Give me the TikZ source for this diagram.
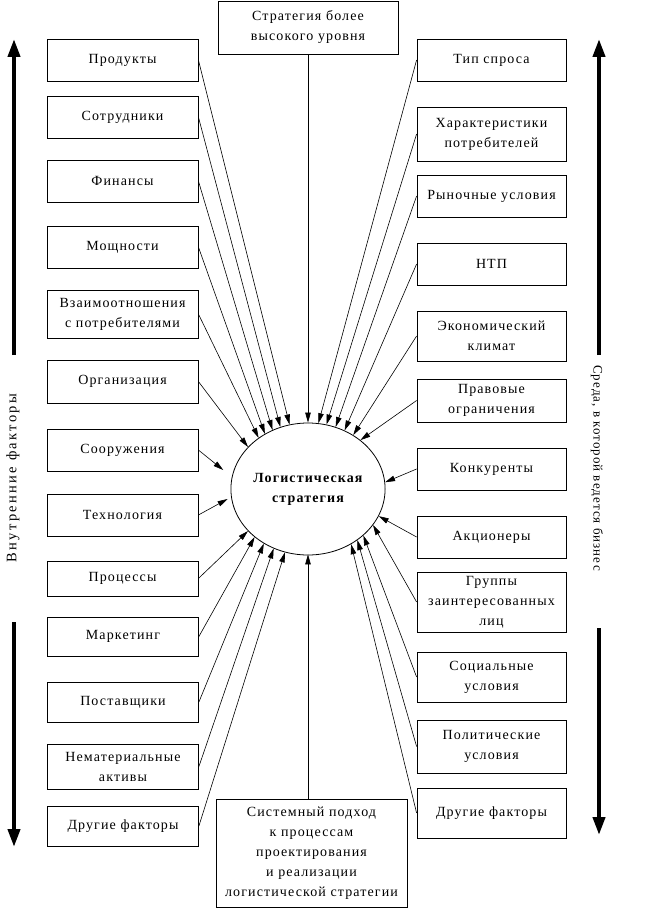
\documentclass[tikz,border=0pt]{standalone}
\usepackage{fontspec}
\setmainfont{Liberation Serif}[LetterSpace=8]
\usetikzlibrary{arrows.meta,shapes.geometric}
\begin{document}
\begin{tikzpicture}[x=1pt,y=-1pt,
  box/.style={draw, line width=0.8pt, align=center, inner sep=0pt, font=\fontsize{14}{20}\selectfont},
  lbox/.style={box, minimum width=151pt},
  rbox/.style={box, minimum width=149pt},
  arr/.style={-{Triangle[length=10pt,width=5.5pt]}, line width=0.6pt},
  big/.style={-{Triangle[length=18pt,width=12pt]}, line width=4pt},
  side/.style={font=\fontsize{14}{16}\selectfont, inner sep=0pt}
]
\useasboundingbox (0,0) rectangle (651,909);

% centre
\node[draw, ellipse, line width=0.8pt, minimum width=142pt, minimum height=132pt, inner sep=0pt,
      align=center, font=\bfseries\fontsize{14}{20}\selectfont] (C) at (308,489) {Логистическая\\стратегия};

% top and bottom boxes
\node[box, minimum width=180pt, minimum height=53pt] (T) at (308,27.5) {Стратегия более\\высокого уровня};
\node[box, minimum width=191pt, minimum height=108pt] (B) at (311.5,853) {Системный подход\\к процессам\\проектирования\\и реализации\\логистической стратегии};

% left boxes
\node[lbox, minimum height=42pt] (L1) at (122.5,60) {Продукты};
\node[lbox, minimum height=42pt] (L2) at (122.5,117) {Сотрудники};
\node[lbox, minimum height=42pt] (L3) at (122.5,181) {Финансы};
\node[lbox, minimum height=42pt] (L4) at (122.5,247) {Мощности};
\node[lbox, minimum height=48pt] (L5) at (122.5,314) {Взаимоотношения\\с потребителями};
\node[lbox, minimum height=43pt] (L6) at (122.5,381.5) {Организация};
\node[lbox, minimum height=42pt] (L7) at (122.5,450) {Сооружения};
\node[lbox, minimum height=42pt] (L8) at (122.5,515) {Технология};
\node[lbox, minimum height=35pt] (L9) at (122.5,578.5) {Процессы};
\node[lbox, minimum height=39pt] (L10) at (123,636.5) {Маркетинг};
\node[lbox, minimum height=40pt] (L11) at (123,702) {Поставщики};
\node[lbox, minimum height=45pt] (L12) at (123,766.5) {Нематериальные\\активы};
\node[lbox, minimum height=40pt] (L13) at (123,826) {Другие факторы};

% right boxes
\node[rbox, minimum height=42pt] (R1) at (491.5,60) {Тип спроса};
\node[rbox, minimum height=54pt] (R2) at (491.5,134) {Характеристики\\потребителей};
\node[rbox, minimum height=42pt] (R3) at (491.5,196) {Рыночные условия};
\node[rbox, minimum height=42pt] (R4) at (491.5,264) {НТП};
\node[rbox, minimum height=50pt] (R5) at (491.5,336) {Экономический\\климат};
\node[rbox, minimum height=43pt] (R6) at (491.5,400.5) {Правовые\\ограничения};
\node[rbox, minimum height=42pt] (R7) at (491.5,469) {Конкуренты};
\node[rbox, minimum height=42pt] (R8) at (491.5,537) {Акционеры};
\node[rbox, minimum height=60pt] (R9) at (491.5,602) {Группы\\заинтересованных\\лиц};
\node[rbox, minimum height=50pt] (R10) at (491.5,677) {Социальные\\условия};
\node[rbox, minimum height=53pt] (R11) at (491.5,746.5) {Политические\\условия};
\node[rbox, minimum height=50pt] (R12) at (491.5,813) {Другие факторы};

% connectors
\draw[arr] (T.south) -- (C.90);
\draw[arr, shorten >=-1pt] (B.north -| C.south) -- (C.south);
\draw[arr] (L1.east) -- (C.106.9);
\draw[arr] (L2.east) -- (C.114.4);
\draw[arr] (L3.east) -- (C.121.5);
\draw[arr] (L4.east) -- (C.128.4);
\draw[arr] (L5.east) -- (C.134.5);
\draw[arr] (L6.east) -- (C.145.5);
\draw[arr, shorten >=11pt] (L7.east) -- (C.171);
\draw[arr, shorten >=4pt] (L8.east) -- (C.186);
\draw[arr] (L9.east) -- (C.215.2);
\draw[arr] (L10.east) -- (C.222.8);
\draw[arr] (L11.east) -- (C.231.8);
\draw[arr] (L12.east) -- (C.240.6);
\draw[arr] (L13.east) -- (C.250.5);
\draw[arr] (R1.west) -- (C.81);
\draw[arr] (R2.west) -- (C.74);
\draw[arr] (R3.west) -- (C.66.3);
\draw[arr] (R4.west) -- (C.58.5);
\draw[arr] (R5.west) -- (C.50.5);
\draw[arr] (R6.west) -- (C.43.4);
\draw[arr] (R7.west) -- (C.5.4);
\draw[arr] (R8.west) -- (C.-21.4);
\draw[arr] (R9.west) -- (C.-29.4);
\draw[arr] (R10.west) -- (C.-40.1);
\draw[arr] (R11.west) -- (C.-46.7);
\draw[arr] (R12.west) -- (C.-52.8);

% side arrows and labels
\coordinate (la0) at (14,39);
\coordinate (la1) at (14,355);
\coordinate (la2) at (14,622);
\coordinate (la3) at (14,847);
\coordinate (ra0) at (599,39);
\coordinate (ra1) at (599,355);
\coordinate (ra2) at (599,628);
\coordinate (ra3) at (599,835);
\draw[big] (la1) -- (la0);
\draw[big] (la2) -- (la3);
\draw[big] (ra1) -- (ra0);
\draw[big] (ra2) -- (ra3);
\node[side, rotate=90, font=\fontsize{14.5}{16}\selectfont\addfontfeatures{LetterSpace=16}] (LT) at (13,478) {Внутренние факторы};
\node[side, rotate=-90, font=\fontsize{13}{16}\selectfont] (RT) at (597,468) {Среда, в которой ведется бизнес};
\end{tikzpicture}
\end{document}
